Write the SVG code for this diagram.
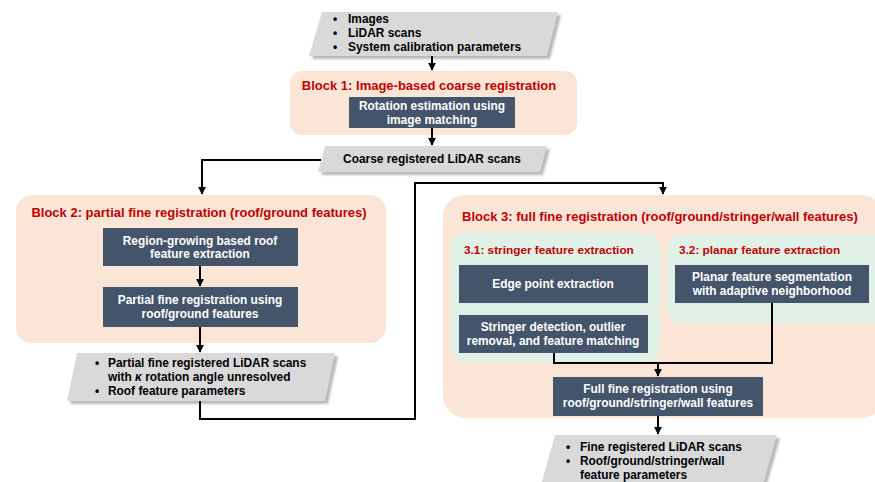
<svg xmlns="http://www.w3.org/2000/svg" width="875" height="482" viewBox="0 0 875 482">
<defs>
<style>
text{font-family:"Liberation Sans",Arial,sans-serif;font-weight:bold;}
.blk{fill:#fbe5d6;}
.sub{fill:#e0f1e7;}
.box{fill:#44546a;}
.io{fill:#d9d9d9;}
.sh{fill:#8c8c8c;opacity:0.6;filter:url(#blur);}
.t{font-size:13px;fill:#c00000;}
.st{font-size:11.8px;fill:#c00000;}
.w{font-size:11.9px;fill:#ffffff;text-anchor:middle;}
.k{font-size:11.9px;fill:#000000;}
.c{fill:none;stroke:#000;stroke-width:2;}
</style>
<filter id="blur" x="-10%" y="-10%" width="120%" height="130%"><feGaussianBlur stdDeviation="1"/></filter>
<marker id="ah" viewBox="0 0 10 10" refX="9" refY="5" markerWidth="4" markerHeight="4" orient="auto"><path d="M0,0 L10,5 L0,10 z" fill="#000"/></marker>
</defs>

<g id="input">
<polygon class="sh" points="325,15 561,15 550,59 312,59"/>
<polygon class="io" points="322,12 558,12 547,56 309,56"/>
<text class="k" x="333" y="23">•</text><text class="k" x="348" y="23">Images</text>
<text class="k" x="333" y="37">•</text><text class="k" x="348" y="37">LiDAR scans</text>
<text class="k" x="333" y="51">•</text><text class="k" x="348" y="51">System calibration parameters</text>
</g>

<g id="block1">
<rect class="blk" x="290" y="71" width="287" height="64" rx="12"/>
<text class="t" x="429" y="90" text-anchor="middle">Block 1: Image-based coarse registration</text>
</g>
<g id="rotation">
<rect class="box" x="349" y="97" width="166" height="31"/>
<text class="w" x="432" y="110">Rotation estimation using</text>
<text class="w" x="432" y="124">image matching</text>
</g>

<g id="coarse">
<polygon class="sh" points="328,149 550,149 543,175 321,175"/>
<polygon class="io" points="325,146 547,146 540,172 318,172"/>
<text class="k" x="432" y="163" text-anchor="middle">Coarse registered LiDAR scans</text>
</g>

<g id="block2">
<rect class="blk" x="16" y="195" width="370" height="148" rx="16"/>
<text class="t" x="199" y="217" text-anchor="middle">Block 2: partial fine registration (roof/ground features)</text>
</g>
<g id="region">
<rect class="box" x="103" y="228" width="195" height="38"/>
<text class="w" x="200" y="245">Region-growing based roof</text>
<text class="w" x="200" y="258">feature extraction</text>
</g>
<g id="partial">
<rect class="box" x="103" y="287" width="195" height="40"/>
<text class="w" x="200" y="304">Partial fine registration using</text>
<text class="w" x="200" y="318">roof/ground features</text>
</g>

<g id="partialout">
<polygon class="sh" points="80,356 338,356 328,404 70,404"/>
<polygon class="io" points="77,353 335,353 325,401 67,401"/>
<text class="k" x="95" y="367">•</text><text class="k" x="108" y="367">Partial fine registered LiDAR scans</text>
<text class="k" x="108" y="381">with <tspan font-style="italic">κ</tspan> rotation angle unresolved</text>
<text class="k" x="95" y="395">•</text><text class="k" x="108" y="395">Roof feature parameters</text>
</g>

<g id="block3">
<rect class="blk" x="443" y="195" width="440" height="223" rx="22"/>
<text class="t" x="660" y="221" text-anchor="middle">Block 3: full fine registration (roof/ground/stringer/wall features)</text>
</g>
<g id="sub31">
<rect class="sub" x="451" y="233" width="209" height="129" rx="14"/>
<text class="st" x="464" y="254">3.1: stringer feature extraction</text>
</g>
<g id="edge">
<rect class="box" x="459" y="265" width="189" height="38"/>
<text class="w" x="553" y="288">Edge point extraction</text>
</g>
<g id="stringer">
<rect class="box" x="459" y="315" width="189" height="38"/>
<text class="w" x="553" y="331">Stringer detection, outlier</text>
<text class="w" x="553" y="345">removal, and feature matching</text>
</g>
<g id="sub32">
<rect class="sub" x="667" y="235" width="220" height="88" rx="14"/>
<text class="st" x="679" y="254">3.2: planar feature extraction</text>
</g>
<g id="planar">
<rect class="box" x="675" y="265" width="194" height="38"/>
<text class="w" x="772" y="281">Planar feature segmentation</text>
<text class="w" x="772" y="295">with adaptive neighborhood</text>
</g>
<g id="full">
<rect class="box" x="553" y="377" width="210" height="39"/>
<text class="w" x="658" y="393">Full fine registration using</text>
<text class="w" x="658" y="407">roof/ground/stringer/wall features</text>
</g>

<g id="output">
<polygon class="sh" points="558,438 780,438 766,488 544,488"/>
<polygon class="io" points="555,435 777,435 763,485 541,485"/>
<text class="k" x="566" y="451">•</text><text class="k" x="580" y="451">Fine registered LiDAR scans</text>
<text class="k" x="566" y="465">•</text><text class="k" x="580" y="465">Roof/ground/stringer/wall</text>
<text class="k" x="580" y="479">feature parameters</text>
</g>

<g id="connectors">
<path class="c" d="M432,56 V70" marker-end="url(#ah)"/>
<path class="c" d="M432,128 V145" marker-end="url(#ah)"/>
<path class="c" d="M321,160 H202 V194" marker-end="url(#ah)"/>
<path class="c" d="M200,266 V286" marker-end="url(#ah)"/>
<path class="c" d="M200,327 V352" marker-end="url(#ah)"/>
<path class="c" d="M200,401 V419 H415 V183 H663 V194" marker-end="url(#ah)"/>
<path class="c" d="M554,353 V363 H772 V303"/>
<path class="c" d="M658,363 V376" marker-end="url(#ah)"/>
<path class="c" d="M658,416 V434" marker-end="url(#ah)"/>
</g>
</svg>
